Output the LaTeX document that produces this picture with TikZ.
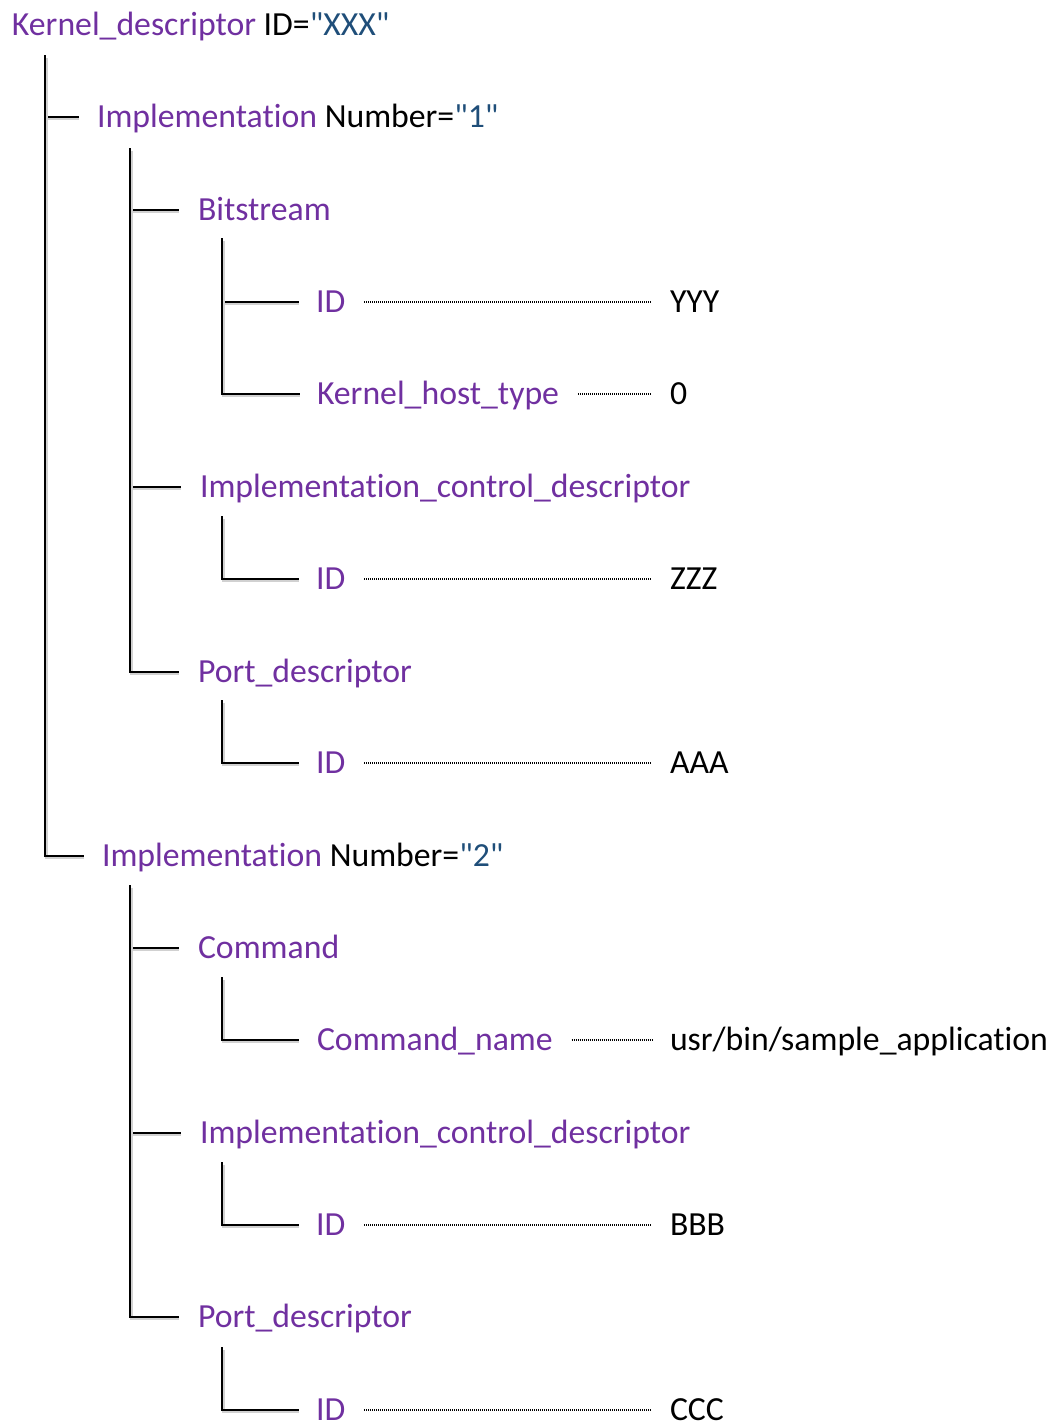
\documentclass[tikz,border=0pt]{standalone}
\usepackage{fontspec}
\setmainfont{Carlito}[Ligatures={TeXOff,NoCommon}]
\usetikzlibrary{calc}
\definecolor{pur}{HTML}{7030A0}
\definecolor{blu}{HTML}{1F4E79}
\newcommand{\pu}[1]{\textcolor{pur}{#1}}
\newcommand{\bl}[1]{\textcolor{blu}{#1}}
\begin{document}
\begin{tikzpicture}[x=0.75pt,y=-0.75pt,
  lbl/.style={anchor=west,inner sep=0pt,outer sep=0pt,text height=16.2pt,text depth=0pt,
    font=\fontsize{25.3pt}{30pt}\selectfont},
  tree/.style={line width=1.8pt,line cap=rect,
    preaction={draw=black!18,line width=2.2pt,transform canvas={shift={(1.1pt,-1.4pt)}}}},
  dots/.style={line width=1pt,dash pattern=on 0.75pt off 0.75pt}]
\useasboundingbox (0,0) rectangle (1055,1423);
% root
\node[lbl] (root) at (12,25) {\pu{Kernel\_descriptor} ID=\bl{"XXX"}};
\coordinate (t0) at (45,56);
% level 1
\node[lbl] (i1) at (97,117) {\pu{Implementation} Number=\bl{"1"}};
\node[lbl] (i2) at (102,856) {\pu{Implementation} Number=\bl{"2"}};
\draw[tree] (t0) |- ($(i1.west)+(-19,0)$);
\draw[tree] (t0) |- ($(i2.west)+(-19,0)$);
% implementation 1
\coordinate (t1) at (130,149);
\node[lbl] (bs) at (198,210) {\pu{Bitstream}};
\node[lbl] (icd1) at (200,487) {\pu{Implementation\_control\_descriptor}};
\node[lbl] (pd1) at (198,672) {\pu{Port\_descriptor}};
\draw[tree] (t1) |- ($(bs.west)+(-20,0)$);
\draw[tree] (t1) |- ($(icd1.west)+(-20,0)$);
\draw[tree] (t1) |- ($(pd1.west)+(-20,0)$);
% bitstream
\coordinate (t2) at (222,239);
\node[lbl] (bsid) at (316,302) {\pu{ID}};
\node[lbl] (kht) at (317,394) {\pu{Kernel\_host\_type}};
\node[lbl] (yyy) at (670,302) {YYY};
\node[lbl] (zero) at (670,394) {0};
\draw[tree] (t2) |- ($(bsid.west)+(-18,0)$);
\draw[tree] (t2) |- ($(kht.west)+(-18,0)$);
\draw[dots] ($(bsid.east)+(19,0)$) -- ($(yyy.west)+(-18,0)$);
\draw[dots] ($(kht.east)+(19,0)$) -- ($(zero.west)+(-18,0)$);
% icd 1
\coordinate (t3) at (222,517);
\node[lbl] (icd1id) at (316,579) {\pu{ID}};
\node[lbl] (zzz) at (670,579) {ZZZ};
\draw[tree] (t3) |- ($(icd1id.west)+(-18,0)$);
\draw[dots] ($(icd1id.east)+(19,0)$) -- ($(zzz.west)+(-18,0)$);
% pd 1
\coordinate (t4) at (222,701);
\node[lbl] (pd1id) at (316,763) {\pu{ID}};
\node[lbl] (aaa) at (670,763) {AAA};
\draw[tree] (t4) |- ($(pd1id.west)+(-18,0)$);
\draw[dots] ($(pd1id.east)+(19,0)$) -- ($(aaa.west)+(-18,0)$);
% implementation 2
\coordinate (t5) at (130,886);
\node[lbl] (cmd) at (198,948) {\pu{Command}};
\node[lbl] (icd2) at (200,1133) {\pu{Implementation\_control\_descriptor}};
\node[lbl] (pd2) at (198,1317) {\pu{Port\_descriptor}};
\draw[tree] (t5) |- ($(cmd.west)+(-20,0)$);
\draw[tree] (t5) |- ($(icd2.west)+(-20,0)$);
\draw[tree] (t5) |- ($(pd2.west)+(-20,0)$);
% command
\coordinate (t6) at (222,978);
\node[lbl] (cn) at (317,1040) {\pu{Command\_name}};
\node[lbl] (app) at (670,1040) {usr/bin/sample\_application};
\draw[tree] (t6) |- ($(cn.west)+(-19,0)$);
\draw[dots] ($(cn.east)+(19,0)$) -- ($(app.west)+(-18,0)$);
% icd 2
\coordinate (t7) at (222,1163);
\node[lbl] (icd2id) at (316,1225) {\pu{ID}};
\node[lbl] (bbb) at (670,1225) {BBB};
\draw[tree] (t7) |- ($(icd2id.west)+(-18,0)$);
\draw[dots] ($(icd2id.east)+(19,0)$) -- ($(bbb.west)+(-18,0)$);
% pd 2
\coordinate (t8) at (222,1348);
\node[lbl] (pd2id) at (316,1410) {\pu{ID}};
\node[lbl] (ccc) at (670,1410) {CCC};
\draw[tree] (t8) |- ($(pd2id.west)+(-18,0)$);
\draw[dots] ($(pd2id.east)+(19,0)$) -- ($(ccc.west)+(-18,0)$);
\end{tikzpicture}
\end{document}
